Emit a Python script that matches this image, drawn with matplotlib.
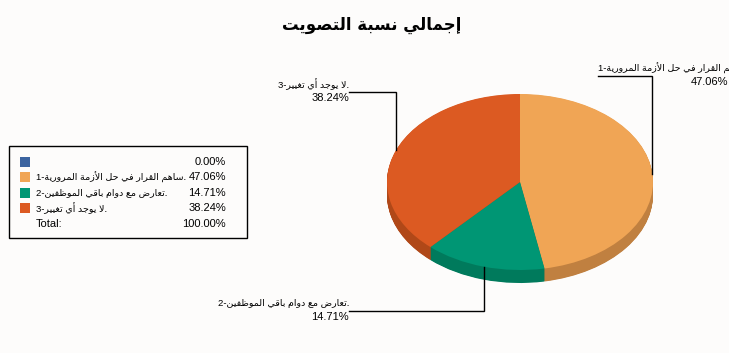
import re
import numpy as np
import matplotlib
matplotlib.use("Agg")
import matplotlib.pyplot as plt

# data
title = "إجمالي نسبة التصويت"
labels = ["", "1-ساهم القرار في حل الأزمة المرورية.", "2-تعارض مع دوام باقي الموظفين.", "3-لا يوجد أي تغيير."]
values = [0.00, 47.06, 14.71, 38.24]
total_pct = 100.00
colors = ["#3c64a0", "#f0a555", "#009674", "#dc5a22"]
side_colors = ["#2c4a78", "#c08040", "#007a5c", "#b04818"]
total_label = "Total:"

# --- minimal arabic shaping (matplotlib has no bidi / shaping) ---
forms = {
    "ا": (0xFE8D, 0xFE8E), "أ": (0xFE83, 0xFE84), "إ": (0xFE87, 0xFE88), "آ": (0xFE81, 0xFE82),
    "ب": (0xFE8F, 0xFE90, 0xFE91, 0xFE92), "ة": (0xFE93, 0xFE94),
    "ت": (0xFE95, 0xFE96, 0xFE97, 0xFE98), "ث": (0xFE99, 0xFE9A, 0xFE9B, 0xFE9C),
    "ج": (0xFE9D, 0xFE9E, 0xFE9F, 0xFEA0), "ح": (0xFEA1, 0xFEA2, 0xFEA3, 0xFEA4),
    "خ": (0xFEA5, 0xFEA6, 0xFEA7, 0xFEA8), "د": (0xFEA9, 0xFEAA), "ذ": (0xFEAB, 0xFEAC),
    "ر": (0xFEAD, 0xFEAE), "ز": (0xFEAF, 0xFEB0),
    "س": (0xFEB1, 0xFEB2, 0xFEB3, 0xFEB4), "ش": (0xFEB5, 0xFEB6, 0xFEB7, 0xFEB8),
    "ص": (0xFEB9, 0xFEBA, 0xFEBB, 0xFEBC), "ض": (0xFEBD, 0xFEBE, 0xFEBF, 0xFEC0),
    "ط": (0xFEC1, 0xFEC2, 0xFEC3, 0xFEC4), "ظ": (0xFEC5, 0xFEC6, 0xFEC7, 0xFEC8),
    "ع": (0xFEC9, 0xFECA, 0xFECB, 0xFECC), "غ": (0xFECD, 0xFECE, 0xFECF, 0xFED0),
    "ف": (0xFED1, 0xFED2, 0xFED3, 0xFED4), "ق": (0xFED5, 0xFED6, 0xFED7, 0xFED8),
    "ك": (0xFED9, 0xFEDA, 0xFEDB, 0xFEDC), "ل": (0xFEDD, 0xFEDE, 0xFEDF, 0xFEE0),
    "م": (0xFEE1, 0xFEE2, 0xFEE3, 0xFEE4), "ن": (0xFEE5, 0xFEE6, 0xFEE7, 0xFEE8),
    "ه": (0xFEE9, 0xFEEA, 0xFEEB, 0xFEEC), "و": (0xFEED, 0xFEEE),
    "ى": (0xFEEF, 0xFEF0), "ي": (0xFEF1, 0xFEF2, 0xFEF3, 0xFEF4),
}
lam_alef = {"ا": (0xFEFB, 0xFEFC), "أ": (0xFEF7, 0xFEF8), "إ": (0xFEF9, 0xFEFA), "آ": (0xFEF5, 0xFEF6)}


def shape(s):
    out = []
    i = 0
    n = len(s)
    while i < n:
        c = s[i]
        if c not in forms:
            out.append(c)
            i += 1
            continue
        prev = s[i - 1] if i > 0 else ""
        joins_prev = prev in forms and len(forms[prev]) == 4
        if c == "ل" and i + 1 < n and s[i + 1] in lam_alef:
            out.append(chr(lam_alef[s[i + 1]][1 if joins_prev else 0]))
            i += 2
            continue
        nxt = s[i + 1] if i + 1 < n else ""
        f = forms[c]
        joins_next = len(f) == 4 and nxt in forms
        if joins_prev and joins_next:
            out.append(chr(f[3]))
        elif joins_prev:
            out.append(chr(f[1]))
        elif joins_next:
            out.append(chr(f[2]))
        else:
            out.append(chr(f[0]))
        i += 1
    return "".join(out)


def visual(s):
    m = re.match(r"^(\d+-)?(.*?)(\.)?$", s)
    pre, mid, post = m.group(1) or "", m.group(2), m.group(3) or ""
    return pre + shape(mid)[::-1] + post


W, H = 729, 353
bg = "#fdfcfb"
fam = ["Liberation Sans", "DejaVu Sans"]
afs = 6.8  # arabic labels run wider in DejaVu, so a bit smaller

fig = plt.figure(figsize=(W / 100, H / 100), dpi=100, facecolor=bg)

# pie geometry (pixels)
cx, cy, rx, ry, depth = 520, 182, 133, 88, 13
pax = fig.add_axes([(cx - rx) / W, (H - cy - ry) / H, 2 * rx / W, 2 * ry / H])
steps = 26
for k in range(steps, 0, -1):
    dy = depth / ry * k / steps
    wed, _ = pax.pie(values, colors=side_colors, startangle=90, counterclock=False,
                     radius=1, center=(0, -dy), wedgeprops=dict(linewidth=0))
    for w in wed:
        w.set_clip_on(False)
wed, _ = pax.pie(values, colors=colors, startangle=90, counterclock=False,
                 radius=1, center=(0, 0), wedgeprops=dict(linewidth=0))
for w in wed:
    w.set_clip_on(False)
pax.set_aspect("auto")
pax.set_xlim(-1, 1)
pax.set_ylim(-1, 1)
pax.axis("off")

# overlay in pixel coordinates
ax = fig.add_axes([0, 0, 1, 1], zorder=5)
ax.set_xlim(0, W)
ax.set_ylim(H, 0)
ax.axis("off")
ax.patch.set_alpha(0)

ax.text(372, 25, visual(title), ha="center", va="center", fontsize=12,
        fontweight="bold", family=["DejaVu Sans"])

# leader labels: (line y, line end x, text x, text alignment, pct x)
layout = {
    1: (76, 598, 598, "left", 728),
    2: (311, 349, 349, "right", 349),
    3: (92, 349, 349, "right", 349),
}
tot = sum(values)
cum = np.cumsum([0] + values[:-1])
for i, v in enumerate(values):
    if i not in layout:
        continue
    th = np.radians(90 - 360 * (cum[i] + v / 2) / tot)
    px = cx + rx * np.cos(th)
    py = cy - ry * np.sin(th)
    ly, lx, tx, ha, pctx = layout[i]
    ax.plot([px, px, lx], [py, ly, ly], color="black", lw=1, solid_joinstyle="miter")
    ax.text(tx, ly - 8, visual(labels[i]), ha=ha, va="center", fontsize=afs, family=fam)
    ax.text(pctx, ly + 6, f"{v:.2f}%", ha="right", va="center", fontsize=8, family=fam)

# legend box
ax.add_patch(plt.Rectangle((9, 146), 238, 92, fill=False, edgecolor="black", lw=1))
row_y = [162, 177, 193, 208]
for i, v in enumerate(values):
    ax.add_patch(plt.Rectangle((20, row_y[i] - 5), 10, 10, facecolor=colors[i], edgecolor="none"))
    ax.text(36, row_y[i], visual(labels[i]) if labels[i] else "", ha="left", va="center",
            fontsize=afs, family=fam)
    ax.text(226, row_y[i], f"{v:.2f}%", ha="right", va="center", fontsize=8, family=fam)
ax.text(36, 224, total_label, ha="left", va="center", fontsize=8, family=fam)
ax.text(226, 224, f"{total_pct:.2f}%", ha="right", va="center", fontsize=8, family=fam)

fig.savefig("out.png", dpi=100, facecolor=bg)
